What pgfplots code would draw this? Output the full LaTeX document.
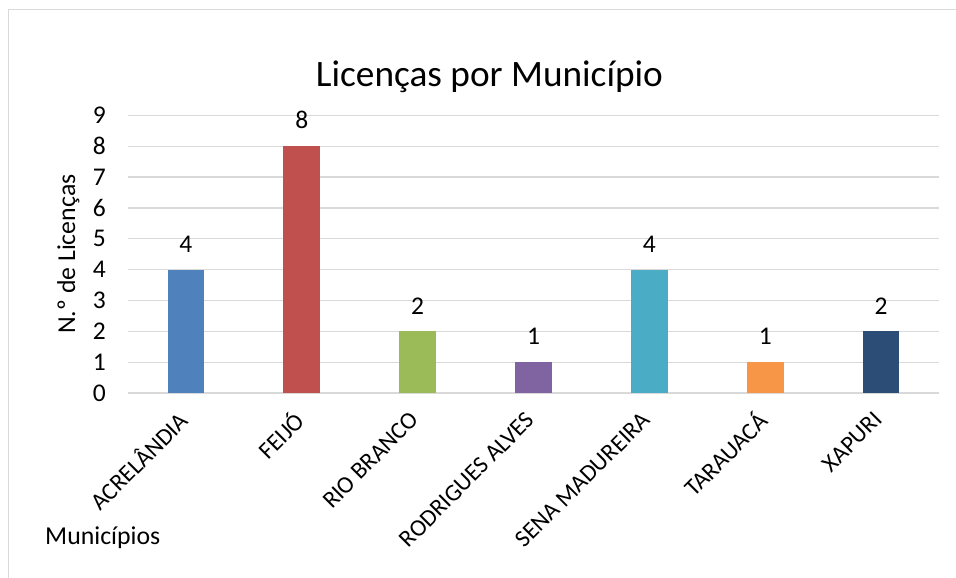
\documentclass[border=0pt]{standalone}
\usepackage{pgfplots}
\pgfplotsset{compat=1.18}
\usepackage{fontspec}
\setmainfont{Carlito}
\definecolor{c1}{HTML}{4F81BD}
\definecolor{c2}{HTML}{C0504D}
\definecolor{c3}{HTML}{9BBB59}
\definecolor{c4}{HTML}{8064A2}
\definecolor{c5}{HTML}{4BACC6}
\definecolor{c6}{HTML}{F79646}
\definecolor{c7}{HTML}{2C4D75}
\definecolor{gridc}{HTML}{D9D9D9}
\begin{document}
\begin{tikzpicture}[x=1pt,y=1pt]
\useasboundingbox (0,0) rectangle (956,578);
\draw[gridc, line width=1pt] (8,0) -- (8,568) -- (956,568);
\begin{axis}[
  at={(128pt,185pt)}, anchor=south west,
  scale only axis, width=811pt, height=277.6pt,
  ymin=0, ymax=9, ytick={0,...,9},
  xmin=-0.5, xmax=6.5,
  xtick={0,...,6},
  xticklabels={ACRELÂNDIA,FEIJÓ,RIO BRANCO,RODRIGUES ALVES,SENA MADUREIRA,TARAUACÁ,XAPURI},
  ybar, bar width=36.7pt, bar shift=0pt,
  axis line style={draw=none},
  major tick length=0pt,
  ymajorgrids, grid style={gridc, line width=1.2pt},
  /pgf/number format/assume math mode=true,
  yticklabel style={font=\fontsize{25.5}{30}\selectfont, anchor=east, inner sep=0pt, xshift=-22pt},
  xticklabel style={font=\fontsize{24}{28}\selectfont, xshift=-3pt, yshift=-23pt, rotate=45, anchor=east, inner sep=0pt},
  nodes near coords,
  every node near coord/.append style={font=\fontsize{25.5}{30}\selectfont, anchor=south, inner sep=0pt, yshift=17pt, text=black},
  title={Licenças por Município},
  title style={font=\fontsize{37.3}{42}\selectfont, at={(rel axis cs:0.5,1)}, anchor=base, yshift=22.5pt, xshift=-44pt},
  ylabel={N.º de Licenças},
  ylabel style={font=\fontsize{25.8}{30}\selectfont, at={(rel axis cs:0,0.5)}, anchor=base, yshift=53pt},
  xlabel={Municípios},
  xlabel style={font=\fontsize{25.8}{30}\selectfont, at={(rel axis cs:0,0)}, anchor=base west, inner sep=0pt, xshift=-83pt, yshift=-151pt},
  clip=false,
]
\addplot[fill=c1, draw=none] coordinates {(0,4)};
\addplot[fill=c2, draw=none] coordinates {(1,8)};
\addplot[fill=c3, draw=none] coordinates {(2,2)};
\addplot[fill=c4, draw=none] coordinates {(3,1)};
\addplot[fill=c5, draw=none] coordinates {(4,4)};
\addplot[fill=c6, draw=none] coordinates {(5,1)};
\addplot[fill=c7, draw=none] coordinates {(6,2)};
\end{axis}
\end{tikzpicture}
\end{document}
